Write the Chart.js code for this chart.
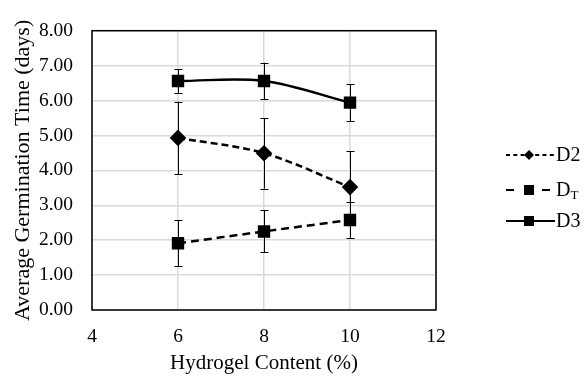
<!DOCTYPE html>
<html><head><meta charset="utf-8">
<script src="https://cdn.jsdelivr.net/npm/chart.js@4/dist/chart.umd.min.js"></script>
<style>html,body{margin:0;padding:0;background:#fff}#wrap{width:586px;height:376px}</style>
</head><body><div id="wrap"><canvas id="c" width="586" height="376"></canvas></div>
<script>
const hydrogel = [6, 8, 10];
const d2 = [4.93, 4.49, 3.52];
const d2Err = [1.04, 1.01, 1.02];
const dt = [1.91, 2.25, 2.58];
const dtErr = [0.66, 0.60, 0.52];
const d3 = [6.56, 6.56, 5.94];
const d3Err = [0.34, 0.52, 0.53];
const xTicks = [4, 6, 8, 10, 12];
const yTicks = [0, 1, 2, 3, 4, 5, 6, 7, 8];
const FONT = "'Liberation Serif','Times New Roman',serif";

function pts(v){ return hydrogel.map((x,i)=>({x:x,y:v[i]})); }

const errorBars = {
  id:'errorBars',
  beforeDatasetsDraw(chart){
    const ctx=chart.ctx, xs=chart.scales.x, ys=chart.scales.y;
    ctx.save(); ctx.strokeStyle='#000'; ctx.lineWidth=1;
    chart.data.datasets.forEach(ds=>{
      ds.err.forEach((e,i)=>{
        const p=ds.data[i];
        const px=Math.round(xs.getPixelForValue(p.x))+0.5;
        const t=ys.getPixelForValue(p.y+e), b=ys.getPixelForValue(p.y-e);
        ctx.beginPath();
        ctx.moveTo(px,t); ctx.lineTo(px,b);
        ctx.moveTo(px-4,Math.round(t)+0.5); ctx.lineTo(px+4,Math.round(t)+0.5);
        ctx.moveTo(px-4,Math.round(b)+0.5); ctx.lineTo(px+4,Math.round(b)+0.5);
        ctx.stroke();
      });
    });
    ctx.restore();
  },
  afterDraw(chart){
    const ctx=chart.ctx, a=chart.chartArea;
    ctx.save();
    ctx.strokeStyle='#000'; ctx.lineWidth=1.5;
    ctx.strokeRect(a.left,a.top,a.right-a.left,a.bottom-a.top);
    // legend
    const rows=[
      {y:155, x1:555, dash:[4,3.3], style:'diamond', label:'D2', sub:''},
      {y:190, x1:550, dash:[8,28], style:'square', label:'D', sub:'T'},
      {y:221, x1:555, dash:[], style:'square', label:'D3', sub:''}
    ];
    const x0=506, mx=529;
    rows.forEach(r=>{
      ctx.strokeStyle='#000'; ctx.lineWidth=2; ctx.setLineDash(r.dash);
      ctx.beginPath(); ctx.moveTo(x0,r.y); ctx.lineTo(r.x1,r.y); ctx.stroke();
      ctx.setLineDash([]);
      ctx.fillStyle='#000';
      if(r.style==='diamond'){
        ctx.beginPath(); ctx.moveTo(mx,r.y-5); ctx.lineTo(mx+5,r.y); ctx.lineTo(mx,r.y+5); ctx.lineTo(mx-5,r.y); ctx.closePath(); ctx.fill();
      } else {
        ctx.fillRect(mx-5,r.y-5,10,10);
      }
      ctx.font='20px '+FONT; ctx.textBaseline='middle'; ctx.textAlign='left';
      ctx.fillText(r.label,556,r.y+1);
      if(r.sub){
        const w=ctx.measureText(r.label).width;
        ctx.font='13px '+FONT;
        ctx.fillText(r.sub,556+w,r.y+6);
      }
    });
    ctx.restore();
  }
};

new Chart(document.getElementById('c'),{
  type:'line',
  data:{datasets:[
    {label:'D2',data:pts(d2),err:d2Err,borderColor:'#000',backgroundColor:'#000',borderWidth:2.5,borderDash:[7,4],tension:0.35,pointStyle:'rectRot',pointRadius:6.5,pointHoverRadius:6.5},
    {label:'DT',data:pts(dt),err:dtErr,borderColor:'#000',backgroundColor:'#000',borderWidth:2.5,borderDash:[8,5],tension:0.35,pointStyle:'rect',pointRadius:7,pointHoverRadius:7},
    {label:'D3',data:pts(d3),err:d3Err,borderColor:'#000',backgroundColor:'#000',borderWidth:2.5,tension:0.35,pointStyle:'rect',pointRadius:7,pointHoverRadius:7}
  ]},
  options:{
    responsive:false,animation:false,
    layout:{padding:{top:18,right:150,left:0,bottom:0}},
    plugins:{legend:{display:false},tooltip:{enabled:false}},
    scales:{
      x:{type:'linear',min:4,max:12,
        afterBuildTicks(s){s.ticks=xTicks.map(v=>({value:v}));},
        afterFit(s){s.height=66;},
        grid:{color:'#d9d9d9',lineWidth:1.5,drawTicks:false},
        border:{display:false},
        ticks:{color:'#000',font:{family:FONT,size:19.5},padding:15,maxRotation:0},
        title:{display:true,text:'Hydrogel Content (%)',color:'#000',font:{family:FONT,size:21},padding:{top:0,bottom:0}}
      },
      y:{type:'linear',min:0,max:8,
        afterBuildTicks(s){s.ticks=yTicks.map(v=>({value:v}));},
        afterFit(s){s.width=92;},
        grid:{color:'#d9d9d9',lineWidth:1.5,drawTicks:false},
        border:{display:false},
        ticks:{color:'#000',font:{family:FONT,size:19.5},padding:19,callback:v=>v.toFixed(2)},
        title:{display:true,text:'Average Germination Time (days)',color:'#000',font:{family:FONT,size:22},padding:{top:10,bottom:0}}
      }
    }
  },
  plugins:[errorBars]
});
</script></body></html>
